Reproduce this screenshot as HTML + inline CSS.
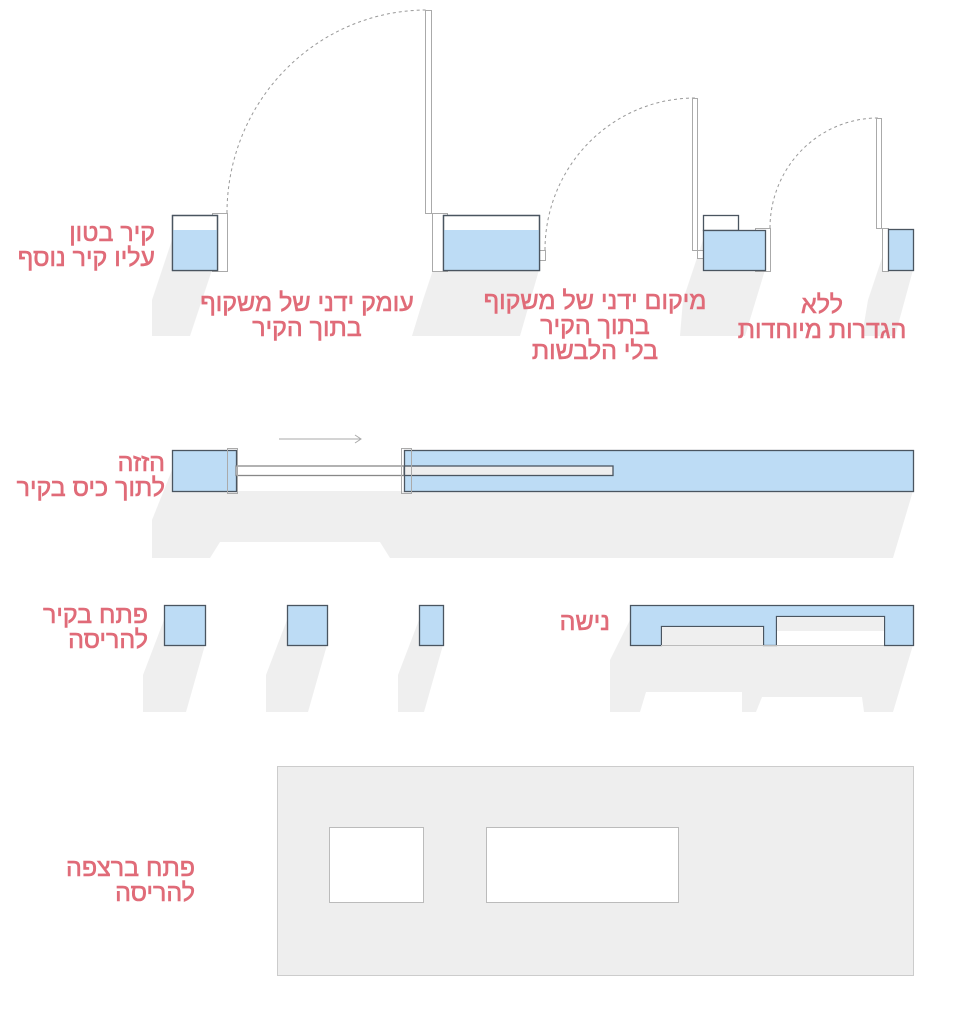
<!DOCTYPE html>
<html><head><meta charset="utf-8"><style>
html,body{margin:0;padding:0;background:#fff;}
svg{display:block;}
text{font-family:"Liberation Sans","DejaVu Sans",sans-serif;font-size:25px;fill:#e06b78;stroke:#e06b78;stroke-width:0.6px;}
</style></head><body>
<svg width="956" height="1024" viewBox="0 0 956 1024" xmlns="http://www.w3.org/2000/svg">
<g fill="#efefef" stroke="none">
<polygon points="172,240 152,300 152,336 190,336 212,270 172,270"/>
<polygon points="443,240 423,300 412,336 520,336 539,270 443,270"/>
<polygon points="703,240 683,300 680,336 745,336 765,270 703,270"/>
<polygon points="888,240 868,300 862,336 895,336 913,270 888,270"/>
<polygon points="172,470 152,520 152,558 210,558 220,542 380,542 390,558 893,558 913,491 172,491"/>
<polygon points="164,620 143,675 143,712 186,712 205,645 164,645"/>
<polygon points="287,620 266,675 266,712 308,712 327,645 287,645"/>
<polygon points="419,620 398,675 398,712 424,712 443,645 419,645"/>
<polygon points="630,620 610,660 610,712 640,712 646,692 742,692 742,712 756,712 762,697 862,697 864,712 893,712 913,645 630,645"/>
</g>
<g stroke="#999" stroke-width="1" fill="none" stroke-dasharray="3,3">
<path d="M227,213 A200,203 0 0 1 427,10"/>
<path d="M545,250 A150,152 0 0 1 695,98"/>
<path d="M770,228 A108,110 0 0 1 878,118"/>
</g>
<g stroke="#aaa" fill="#fff" stroke-width="1">
<rect x="425.5" y="10.5" width="6" height="203"/>
<rect x="692.5" y="98.5" width="5" height="152"/>
<rect x="876.5" y="118.5" width="5" height="110"/>
<rect x="212.5" y="213.5" width="15" height="58"/>
<rect x="432.5" y="213.5" width="15" height="58"/>
<rect x="539.5" y="250.5" width="6" height="10"/>
<rect x="755.5" y="228.5" width="15" height="43"/>
<rect x="697.5" y="250.5" width="6" height="8"/>
<rect x="882.5" y="228.5" width="6" height="43"/>
</g>
<g stroke="#4a5560" stroke-width="1.3">
<rect x="172.5" y="215.5" width="45" height="55" fill="#fff"/>
<rect x="172.5" y="230" width="45" height="40.5" fill="#bddcf5" stroke="none"/>
<rect x="172.5" y="215.5" width="45" height="55" fill="none"/>
<rect x="443.5" y="215.5" width="96" height="55" fill="#fff"/>
<rect x="443.5" y="230" width="96" height="40.5" fill="#bddcf5" stroke="none"/>
<rect x="443.5" y="215.5" width="96" height="55" fill="none"/>
<rect x="703.5" y="215.5" width="35" height="15" fill="#fff"/>
<rect x="703.5" y="230.5" width="62" height="40" fill="#bddcf5"/>
<rect x="888.5" y="229.5" width="25" height="41" fill="#bddcf5"/>
</g>
<line x1="279" y1="439" x2="361" y2="439" stroke="#aaa"/>
<polyline points="355,435 361,439 355,443" fill="none" stroke="#aaa"/>
<g stroke="#4a5560" stroke-width="1.3">
<rect x="172.5" y="450.5" width="64" height="41" fill="#bddcf5"/>
<rect x="404.5" y="450.5" width="509" height="41" fill="#bddcf5"/>
<rect x="236" y="466" width="168" height="9.5" fill="#fff" stroke="#888"/>
<rect x="404.5" y="466" width="208.5" height="9.5" fill="#eee"/>
</g>
<g stroke="#aaa" fill="none">
<rect x="227.5" y="448.5" width="10" height="45"/>
<rect x="401.5" y="448.5" width="10" height="45"/>
</g>
<g stroke="#4a5560" stroke-width="1.3" fill="#bddcf5">
<rect x="164.5" y="605.5" width="41" height="40"/>
<rect x="287.5" y="605.5" width="40" height="40"/>
<rect x="419.5" y="605.5" width="24" height="40"/>
<polygon points="630.5,605.5 913.5,605.5 913.5,645.5 884.5,645.5 884.5,616.5 776.5,616.5 776.5,645.5 763.5,645.5 763.5,626.5 661.5,626.5 661.5,645.5 630.5,645.5"/>
</g>
<rect x="662" y="627" width="101" height="18" fill="#efefef"/>
<rect x="777" y="617" width="107" height="14" fill="#efefef"/>
<rect x="777" y="631" width="107" height="14" fill="#fff"/>
<line x1="661" y1="645.5" x2="884" y2="645.5" stroke="#bbb"/>
<rect x="277.5" y="766.5" width="636" height="209" fill="#eeeeee" stroke="#ccc"/>
<rect x="329.5" y="827.5" width="94" height="75" fill="#fff" stroke="#bbb"/>
<rect x="486.5" y="827.5" width="192" height="75" fill="#fff" stroke="#bbb"/>
<text x="155" y="241" text-anchor="end">קיר בטון</text>
<text x="155" y="266" text-anchor="end">עליו קיר נוסף</text>
<text x="307" y="311" text-anchor="middle">עומק ידני של משקוף</text>
<text x="307" y="336" text-anchor="middle">בתוך הקיר</text>
<text x="595" y="309" text-anchor="middle">מיקום ידני של משקוף</text>
<text x="595" y="334" text-anchor="middle">בתוך הקיר</text>
<text x="595" y="359" text-anchor="middle">בלי הלבשות</text>
<text x="822" y="313" text-anchor="middle">ללא</text>
<text x="822" y="338" text-anchor="middle">הגדרות מיוחדות</text>
<text x="165" y="471" text-anchor="end">הזזה</text>
<text x="165" y="496" text-anchor="end">לתוך כיס בקיר</text>
<text x="148" y="623" text-anchor="end">פתח בקיר</text>
<text x="148" y="648" text-anchor="end">להריסה</text>
<text x="610" y="630" text-anchor="end">נישה</text>
<text x="195" y="876" text-anchor="end">פתח ברצפה</text>
<text x="195" y="901" text-anchor="end">להריסה</text>
</svg>
</body></html>
